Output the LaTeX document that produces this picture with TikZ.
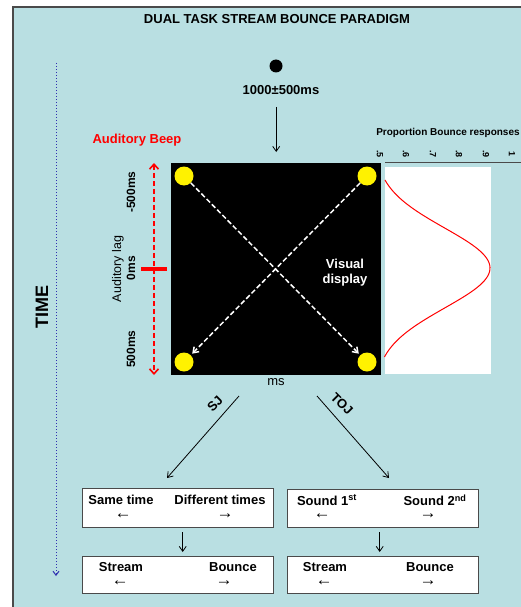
\documentclass[tikz,border=0pt]{standalone}
\usepackage{fontspec}
\setmainfont{Liberation Sans}
\usetikzlibrary{arrows.meta}
\definecolor{panel}{HTML}{B9DFE2}
\definecolor{edge}{HTML}{4A4A4A}
\definecolor{timeline}{HTML}{3030B0}
\tikzset{
  txt/.style={inner sep=0pt, font=\bfseries\fontsize{13}{15}\selectfont},
  small/.style={inner sep=0pt, font=\bfseries\fontsize{9}{10}\selectfont},
  sign/.style={inner sep=0pt, font=\fontsize{17}{18}\selectfont},
  answer/.style={draw=edge, fill=white, minimum width=191pt, inner sep=0pt},
  ball/.style={circle, fill=yellow, minimum size=19pt, inner sep=0pt},
  arr/.style={-{Straight Barb[length=5pt,width=7pt]}},
}
\begin{document}
\begin{tikzpicture}[x=1pt,y=-1pt]
\useasboundingbox (0,0) rectangle (521,607);
\fill[white] (0,0) rectangle (521,607);
\fill[panel] (13,7) rectangle (521,607);
\draw[edge, line width=1.2pt] (13,607) -- (13,7) -- (521,7);
\node[txt] (title) at (277,19) {DUAL TASK STREAM BOUNCE PARADIGM};
\node[circle, fill=black, minimum size=13pt, inner sep=0pt] (fix) at (276,66) {};
\node[txt] (iti) at (281,90) {1000±500ms};
\node[txt, red] (beep) at (137,140) {Auditory Beep};
\node[txt, font=\bfseries\fontsize{10}{12}\selectfont] (prop) at (448,133) {Proportion Bounce responses};
\node[small, rotate=-90] (t5) at (380,154) {.5};
\node[small, rotate=-90] (t6) at (406,154) {.6};
\node[small, rotate=-90] (t7) at (433,154) {.7};
\node[small, rotate=-90] (t8) at (459,154) {.8};
\node[small, rotate=-90] (t9) at (486,154) {.9};
\node[small, rotate=-90] (t10) at (512,154) {1};
\draw[edge, line width=1pt] (385,162) -- (521,162);
\node[fill=black, minimum width=210pt, minimum height=212pt, inner sep=0pt, anchor=north west] (display) at (171,163) {};
\fill[white] (385,167) rectangle (491,374);
\draw[red, line width=1pt] plot[domain=180:357, samples=80, variable=\t] ({385+105*(exp(-((\t-268)^2)/3200)-0.089)/0.911}, \t);
\draw[arr, line width=0.8pt, shorten <=12pt, shorten >=11pt] (display.north |- iti.south) -- (display.north);
\node[ball] (tl) at (184,176) {};
\node[ball] (tr) at (367,176) {};
\node[ball] (bl) at (184,362) {};
\node[ball] (br) at (367,362) {};
\draw[white, line width=1.5pt, dash pattern=on 5pt off 2.5pt, arr, shorten >=2pt] (tl) -- (br);
\draw[white, line width=1.5pt, dash pattern=on 5pt off 2.5pt, arr, shorten >=2pt] (tr) -- (bl);
\node[txt, white, align=center] (vis) at (345,273) {Visual\\display};
\coordinate (lagtop) at (154,163);
\coordinate (lagbot) at (154,375);
\draw[red, line width=1.6pt, dash pattern=on 5pt off 3pt, {Straight Barb[length=5pt,width=9pt]}-{Straight Barb[length=5pt,width=9pt]}] (lagtop) -- (lagbot);
\draw[red, line width=4pt] (141,269) -- (167,269);
\node[txt, font=\bfseries\fontsize{12}{14}\selectfont, rotate=90] (early) at (131,192) {-500ms};
\node[txt, font=\fontsize{12.5}{14}\selectfont, rotate=90] (lag) at (118,269) {Auditory lag};
\node[txt, font=\bfseries\fontsize{12}{14}\selectfont, rotate=90] (zero) at (131,268) {0ms};
\node[txt, font=\bfseries\fontsize{12}{14}\selectfont, rotate=90] (late) at (131,349) {500ms};
\node[txt, font=\fontsize{13}{15}\selectfont] (ms) at (276,382) {ms};
\node[txt, font=\bfseries\fontsize{18}{20}\selectfont, rotate=90] (time) at (42,307) {TIME};
\coordinate (ttop) at (56,63);
\coordinate (tbot) at (56,576);
\draw[timeline, line width=1pt, dotted, -{Straight Barb[length=4pt,width=6pt]}] (ttop) -- (tbot);
\node[answer, minimum height=39pt, anchor=north west] (sj) at (82,488) {};
\node[answer, minimum height=38pt, anchor=north west] (toj) at (287,489) {};
\node[answer, minimum height=37pt, anchor=north west] (sjsb) at (82,556) {};
\node[answer, minimum height=37pt, anchor=north west] (tojsb) at (287,556) {};
\coordinate (sjfrom) at (239,396);
\coordinate (sjto) at (167,478);
\coordinate (tojfrom) at (317,396);
\coordinate (tojto) at (389,478);
\draw[arr, line width=0.8pt] (sjfrom) -- (sjto);
\draw[arr, line width=0.8pt] (tojfrom) -- (tojto);
\node[txt, rotate=45] (sjlab) at (215,404) {SJ};
\node[txt, rotate=-45] (tojlab) at (342,404) {TOJ};
\draw[arr, line width=0.8pt, shorten <=5pt, shorten >=4pt] ([xshift=5pt]sj.south) -- ([xshift=5pt]sjsb.north);
\draw[arr, line width=0.8pt, shorten <=5pt, shorten >=4pt] ([xshift=-3pt]toj.south) -- ([xshift=-3pt]tojsb.north);
\node[txt] (same) at (121,500) {Same time};
\node[txt] (diff) at (220,500) {Different times};
\node[sign] (samel) at (123,516) {←};
\node[sign] (diffr) at (225,516) {→};
\node[txt] (first) at (327,500) {Sound 1\textsuperscript{st}};
\node[txt] (second) at (435,500) {Sound 2\textsuperscript{nd}};
\node[sign] (firstl) at (322,516) {←};
\node[sign] (secondr) at (428,516) {→};
\node[txt] (str1) at (121,567) {Stream};
\node[txt] (bnc1) at (233,567) {Bounce};
\node[sign] (str1l) at (120,583) {←};
\node[sign] (bnc1r) at (224,583) {→};
\node[txt] (str2) at (325,567) {Stream};
\node[txt] (bnc2) at (430,567) {Bounce};
\node[sign] (str2l) at (324,583) {←};
\node[sign] (bnc2r) at (428,583) {→};
\end{tikzpicture}
\end{document}
